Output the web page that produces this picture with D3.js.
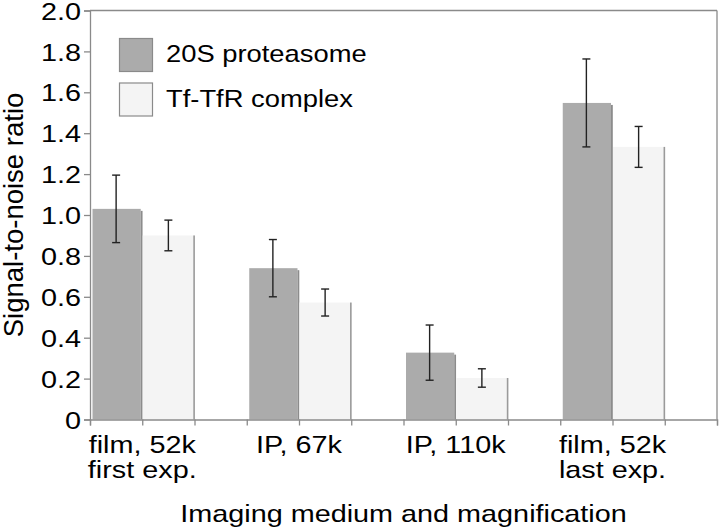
<!DOCTYPE html>
<html>
<head>
<meta charset="utf-8">
<script src="https://cdn.jsdelivr.net/npm/d3@7"></script>
<style>
html,body{margin:0;padding:0;background:#fff;}
svg{display:block;}
text{font-family:"Liberation Sans",Arial,Helvetica,sans-serif;fill:#000;}
</style>
</head>
<body>
<svg id="chart" width="720" height="532"></svg>
<script>
const categories = [["film, 52k","first exp."],["IP, 67k"],["IP, 110k"],["film, 52k","last exp."]];
const seriesNames = ["20S proteasome","Tf-TfR complex"];
const proteasome = [1.03, 0.74, 0.327, 1.548];
const proteasomeErr = [0.165, 0.14, 0.135, 0.215];
const tfr = [0.90, 0.572, 0.203, 1.333];
const tfrErr = [0.075, 0.066, 0.045, 0.10];
const yTicks = [0, 0.2, 0.4, 0.6, 0.8, 1.0, 1.2, 1.4, 1.6, 1.8, 2.0];
const yTickLabels = ["0","0.2","0.4","0.6","0.8","1.0","1.2","1.4","1.6","1.8","2.0"];
const xTitle = "Imaging medium and magnification";
const yTitle = "Signal-to-noise ratio";

(function () {
const SX = 1.2;          // horizontal stretch of the original text
const FS = 24;           // font size
const pLeft = 90, pRight = 717, pTop = 10.5, pBottom = 419.5;

const svg = d3.select("#chart");
const y = d3.scaleLinear().domain([0, 2]).range([pBottom, pTop]);
const catKeys = categories.map(c => c.join(" "));
const x0 = d3.scaleBand().domain(catKeys).range([pLeft, pRight]).padding(0);
const slotKeys = ["p", "t", "gap"];
const x1 = d3.scaleBand().domain(slotKeys).range([0, x0.bandwidth()]).padding(0);

const fills = {p: "#ababab", t: "#f4f4f4"};
const edges = {p: "#8c8c8c", t: "#9a9a9a"};

const data = [];
catKeys.forEach((k, i) => {
  data.push({cat: k, s: "p", v: proteasome[i], e: proteasomeErr[i]});
  data.push({cat: k, s: "t", v: tfr[i], e: tfrErr[i]});
});

// bars
const gb = svg.append("g");
data.forEach(d => {
  const x = x0(d.cat) + x1(d.s);
  const w = x1.bandwidth();
  if (d.s === "p") {
    gb.append("rect").attr("x", x + 2.5).attr("y", y(d.v)).attr("width", w - 4).attr("height", pBottom - y(d.v)).attr("fill", fills.p);
    gb.append("rect").attr("x", x + w - 1.5).attr("y", y(d.v) + 2).attr("width", 1.8).attr("height", pBottom - y(d.v) - 2).attr("fill", edges.p);
  } else {
    gb.append("rect").attr("x", x + 0.5).attr("y", y(d.v)).attr("width", w - 1.5).attr("height", pBottom - y(d.v)).attr("fill", fills.t);
    gb.append("rect").attr("x", x + w - 1.2).attr("y", y(d.v)).attr("width", 1.6).attr("height", pBottom - y(d.v)).attr("fill", edges.t);
  }
});

// error bars
const ge = svg.append("g").attr("stroke", "#222").attr("stroke-width", 1.4);
data.forEach(d => {
  const cx = x0(d.cat) + x1(d.s) + x1.bandwidth() / 2;
  ge.append("line").attr("x1", cx).attr("x2", cx).attr("y1", y(d.v + d.e)).attr("y2", y(d.v - d.e));
  ge.append("line").attr("x1", cx - 4).attr("x2", cx + 4).attr("y1", y(d.v + d.e)).attr("y2", y(d.v + d.e));
  ge.append("line").attr("x1", cx - 4).attr("x2", cx + 4).attr("y1", y(d.v - d.e)).attr("y2", y(d.v - d.e));
});

// frame: top and right
svg.append("line").attr("x1", pLeft).attr("x2", pRight).attr("y1", pTop).attr("y2", pTop).attr("stroke", "#8a8a8a").attr("stroke-width", 1.3);
svg.append("line").attr("x1", pRight).attr("x2", pRight).attr("y1", pTop).attr("y2", pBottom).attr("stroke", "#8a8a8a").attr("stroke-width", 1.3);

// y axis
const yAxis = d3.axisLeft(y).tickValues(yTicks).tickSize(6).tickPadding(0)
  .tickFormat((d, i) => yTickLabels[i]);
const gy = svg.append("g").attr("transform", `translate(${pLeft},0)`).call(yAxis);
gy.attr("font-family", null).attr("font-size", null);
gy.select(".domain").attr("stroke", "#8a8a8a").attr("stroke-width", 1.3);
gy.selectAll(".tick line").attr("stroke", "#8a8a8a").attr("stroke-width", 1.3);
gy.selectAll(".tick text")
  .attr("font-size", FS).attr("fill", "#000")
  .attr("x", -9 / SX).attr("dy", "0.36em")
  .attr("transform", `scale(${SX},1)`);

// x axis: ticks at each slot boundary
const slotW = x1.bandwidth();
const slotEdges = d3.range(catKeys.length * 3 + 1).map(i => pLeft + i * slotW);
const xs = d3.scaleLinear().domain([pLeft, pRight]).range([pLeft, pRight]);
const xAxis = d3.axisBottom(xs).tickValues(slotEdges).tickSize(6).tickFormat("");
const gx = svg.append("g").attr("transform", `translate(0,${pBottom})`).call(xAxis);
gx.select(".domain").attr("stroke", "#8a8a8a").attr("stroke-width", 1.3);
gx.selectAll(".tick line").attr("stroke", "#8a8a8a").attr("stroke-width", 1.3);

// category labels
categories.forEach((lines, i) => {
  const cx = x0(catKeys[i]) + slotW;
  lines.forEach((t, j) => {
    svg.append("g").attr("transform", `translate(${cx},${453 + j * 25}) scale(${SX},1)`)
      .append("text").attr("text-anchor", "middle").attr("font-size", FS).text(t);
  });
});

// axis titles
svg.append("g").attr("transform", `translate(${(pLeft + pRight) / 2},521.5) scale(${SX},1)`)
  .append("text").attr("text-anchor", "middle").attr("font-size", FS).text(xTitle);
svg.append("text").attr("transform", `translate(23,${(pTop + pBottom) / 2}) rotate(-90)`)
  .attr("text-anchor", "middle").attr("font-size", 27.5).text(yTitle);

// legend
const lg = svg.append("g");
seriesNames.forEach((n, i) => {
  const s = slotKeys[i];
  lg.append("rect").attr("x", 119.5).attr("y", 38.5 + i * 44.5).attr("width", 33).attr("height", 33)
    .attr("fill", fills[s]).attr("stroke", "#8a8a8a").attr("stroke-width", 1.2);
  lg.append("g").attr("transform", `translate(166,${62 + i * 44.5}) scale(${SX * 0.95},1)`)
    .append("text").attr("font-size", FS).text(n);
});
})();
</script>
</body>
</html>
